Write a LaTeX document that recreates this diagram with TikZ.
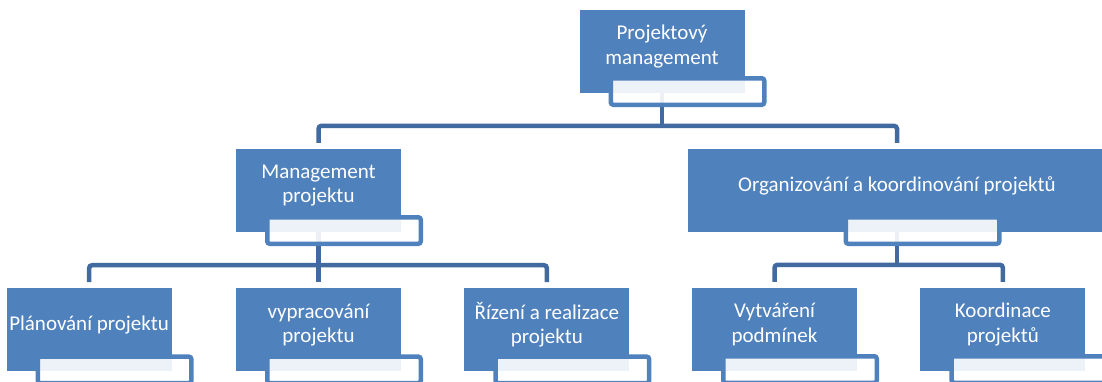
\documentclass[tikz,border=0pt]{standalone}
\usepackage{fontspec}
\setmainfont{Carlito}
\usetikzlibrary{positioning,backgrounds}
\definecolor{boxblue}{RGB}{79,129,189}
\definecolor{linkblue}{RGB}{64,106,160}
\tikzset{
    unit/.style={fill=boxblue, minimum width=165pt, minimum height=83pt, inner sep=0pt},
    boxtext/.style={text=white, align=center, inner sep=0pt, font=\fontsize{21}{24.5}\selectfont},
    tab/.style={draw=boxblue, line width=4.5pt, fill=white, fill opacity=0.9, rounded corners=2.5pt,
        minimum width=153.5pt, minimum height=26.5pt, inner sep=0pt},
    link/.style={draw=linkblue, line width=4.5pt, rounded corners=3pt}
}
\begin{document}
\begin{tikzpicture}[x=1pt, y=-1pt]
    \useasboundingbox (0,0) rectangle (1102,381);

    % Define nodes
    \node[unit]							(pm)	at (662,51.5)	{};
    \node[unit]							(mp)	at (318.5,190.5)	{};
    \node[unit, minimum width=418pt]	(ok)	at (897,190.5)	{};
    \node[unit, below = 56pt of mp]		(vp)	{};
    \node[unit, left = 64pt of vp]		(pp)	{};
    \node[unit, right = 63pt of vp]		(rr)	{};
    \node[unit]							(vt)	at (774.5,329.5)	{};
    \node[unit, right = 63pt of vt]		(ko)	{};

    % Texts
    \node[boxtext] (pm-text) at ([yshift=5pt]pm.center) {Projektový\\management};
    \node[boxtext] (mp-text) at ([yshift=5pt]mp.center) {Management\\projektu};
    \node[boxtext] (ok-text) at ([yshift=5pt]ok.center) {Organizování a koordinování projektů};
    \node[boxtext] (pp-text) at ([yshift=5pt]pp.center) {Plánování projektu};
    \node[boxtext] (vp-text) at ([yshift=5pt]vp.center) {vypracování\\projektu};
    \node[boxtext] (rr-text) at ([yshift=5pt]rr.center) {Řízení a realizace\\projektu};
    \node[boxtext] (vt-text) at ([yshift=5pt]vt.center) {Vytváření\\podmínek};
    \node[boxtext] (ko-text) at ([yshift=5pt]ko.center) {Koordinace\\projektů};

    % Tabs under the boxes
    \node[tab] (pm-tab) at ([xshift=25.5pt, yshift=-40pt]pm.center) {};
    \node[tab] (mp-tab) at ([xshift=25.5pt, yshift=-40pt]mp.center) {};
    \node[tab] (ok-tab) at ([xshift=25.5pt, yshift=-40pt]ok.center) {};
    \node[tab] (pp-tab) at ([xshift=25.5pt, yshift=-40pt]pp.center) {};
    \node[tab] (vp-tab) at ([xshift=25.5pt, yshift=-40pt]vp.center) {};
    \node[tab] (rr-tab) at ([xshift=25.5pt, yshift=-40pt]rr.center) {};
    \node[tab] (vt-tab) at ([xshift=25.5pt, yshift=-40pt]vt.center) {};
    \node[tab] (ko-tab) at ([xshift=25.5pt, yshift=-40pt]ko.center) {};

    % Connect nodes
    \coordinate (bus1) at ([yshift=23pt]mp.north);
    \coordinate (bus2) at ([yshift=23pt]vp.north);
    \coordinate (bus3) at ([yshift=23pt]vt.north);
    \begin{scope}[on background layer]
        \draw[link] (pm.center) -- (pm.center |- bus1);
        \draw[link] ([yshift=6pt]mp.north) -- (bus1) -| ([yshift=6pt]ok.north);
        \draw[link] (mp.center) -- ([yshift=6pt]vp.north);
        \draw[link] ([yshift=6pt]pp.north) |- (bus2) -| ([yshift=6pt]rr.north);
        \draw[link] (ok.center) -- (ok.center |- bus3);
        \draw[link] ([yshift=6pt]vt.north) -- (bus3) -| ([yshift=6pt]ko.north);
    \end{scope}
\end{tikzpicture}
\end{document}
